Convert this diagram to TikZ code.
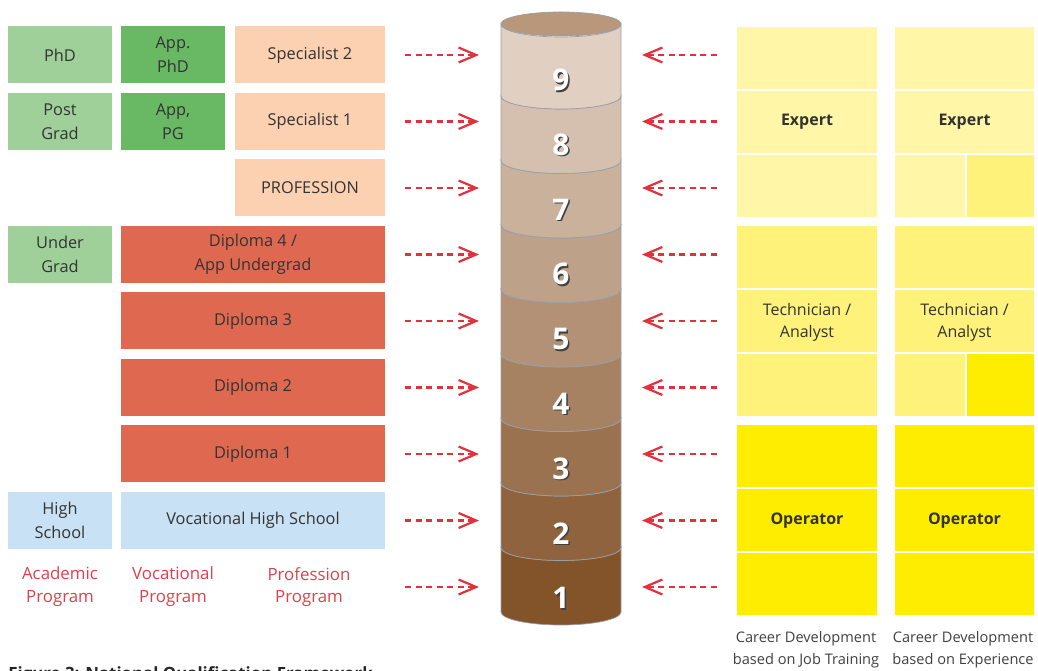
\documentclass[tikz,border=0pt]{standalone}
\usepackage{fontspec}
\setmainfont{Open Sans}
\usetikzlibrary{arrows.meta}

\definecolor{acad}{HTML}{9FD09A}
\definecolor{appl}{HTML}{69B863}
\definecolor{spec}{HTML}{FCD1B1}
\definecolor{dipl}{HTML}{DF6950}
\definecolor{school}{HTML}{C9E1F4}
\definecolor{arrowred}{HTML}{E2303C}
\definecolor{labelred}{HTML}{E0404C}
\definecolor{ylight}{HTML}{FFF6A8}
\definecolor{ymid}{HTML}{FFF27A}
\definecolor{ystrong}{HTML}{FFED00}
\definecolor{brownlight}{HTML}{E1D0C2}
\definecolor{browndark}{HTML}{83532A}
\definecolor{browntop}{HTML}{B8977A}
\definecolor{rimgray}{HTML}{9A9EA6}
\definecolor{txt}{HTML}{333333}

\tikzset{
  prog/.style={inner sep=0pt, minimum height=57*0.02cm, minimum width=#1*0.02cm,
    align=center, text=txt, font=\fontsize{9.3}{13.5}\selectfont},
  career/.style={inner sep=0pt, minimum height=62*0.02cm, minimum width=#1*0.02cm},
  cartext/.style={align=center, text=txt, font=\fontsize{9.1}{12.6}\selectfont},
  lvlarrow/.style={draw=arrowred, line width=1.25pt, dash pattern=on 3.6pt off 2.4pt,
    -{Straight Barb[length=10pt, width=8.5pt]}},
  redlabel/.style={align=center, text=labelred, font=\fontsize{9.6}{13}\selectfont},
  greylabel/.style={align=center, text=black!75, font=\fontsize{8.3}{12.5}\selectfont},
}

\begin{document}
\begin{tikzpicture}[x=0.02cm, y=-0.02cm]
	\useasboundingbox (0,0) rectangle (1038,671);
	\clip (0,0) rectangle (1038,671);

	% programs on the left
	\node[prog=104, fill=acad] (phd) at (60,55) {PhD};
	\node[prog=104, fill=acad] (postgrad) at (60,121.5) {Post\\Grad};
	\node[prog=104, fill=acad] (undergrad) at (60,254.5) {Under\\Grad};
	\node[prog=104, fill=school] (highschool) at (60,520.5) {High\\School};

	\node[prog=104, fill=appl] (appphd) at (173,55) {App.\\PhD};
	\node[prog=104, fill=appl] (apppg) at (173,121.5) {App,\\PG};

	\node[prog=150, fill=spec] (spec2) at (310,55) {Specialist 2};
	\node[prog=150, fill=spec] (spec1) at (310,121.5) {Specialist 1};
	\node[prog=150, fill=spec] (profession) at (310,188) {PROFESSION};

	\node[prog=264, fill=dipl] (dipl4) at (253,254.5) {Diploma 4 /\\App Undergrad};
	\node[prog=264, fill=dipl] (dipl3) at (253,321) {Diploma 3};
	\node[prog=264, fill=dipl] (dipl2) at (253,387.5) {Diploma 2};
	\node[prog=264, fill=dipl] (dipl1) at (253,454) {Diploma 1};
	\node[prog=264, fill=school] (vochigh) at (253,520.5) {Vocational High School};

	\node[redlabel] (acadlabel) at (60,587) {Academic\\Program};
	\node[redlabel] (voclabel) at (173,587) {Vocational\\Program};
	\node[redlabel] (proflabel) at (309,587) {Profession\\Program};

	% the levels
	\foreach \k in {1,...,9} {
		\pgfmathsetmacro\yb{612-64.5*(\k-1)}
		\pgfmathsetmacro\yt{\k==9 ? 24 : 612-64.5*\k}
		\pgfmathsetmacro\mix{100*(9-\k)/8}
		\draw[rimgray, fill=browndark!\mix!brownlight] (501,\yt) -- (501,\yb)
			arc[start angle=180, end angle=0, x radius=60, y radius=13] -- (621,\yt)
			arc[start angle=0, end angle=180, x radius=60, y radius=13] -- cycle;
	}
	\draw[rimgray, fill=browntop] (561,24) ellipse [x radius=60, y radius=12];

	\foreach \k in {1,...,9} {
		\pgfmathsetmacro\yn{598-64.75*(\k-1)}
		\node[text=black!75, font=\bfseries\fontsize{17}{17}\selectfont] (s\k) at (562.5,\yn+1.5) {\k};
		\node[text=white, font=\bfseries\fontsize{17}{17}\selectfont] (n\k) at (561,\yn) {\k};
	}

	% arrows
	\foreach \k in {1,...,9} {
		\pgfmathsetmacro\y{55+66.5*(9-\k)}
		\coordinate (la\k) at (405,\y);
		\coordinate (lb\k) at (479,\y);
		\coordinate (ra\k) at (717,\y);
		\coordinate (rb\k) at (642,\y);
		\draw[lvlarrow] (la\k) -- (lb\k);
		\draw[lvlarrow] (ra\k) -- (rb\k);
	}

	% career development on the right
	\foreach \g/\c in {0/ylight, 1/ymid, 2/ystrong}
		\foreach \r in {0,1,2}
			\node[career=140, fill=\c] (ja\g\r) at (807,{58+199*\g+64*\r}) {};
	\foreach \g/\c in {0/ylight, 1/ymid, 2/ystrong}
		\foreach \r in {0,1}
			\node[career=139, fill=\c] (jb\g\r) at (964.5,{58+199*\g+64*\r}) {};
	\node[career=70, fill=ylight] (jb02) at (930,186) {};
	\node[career=67, fill=ymid] (jc02) at (1000.5,186) {};
	\node[career=70, fill=ymid] (jb12) at (930,385) {};
	\node[career=67, fill=ystrong] (jc12) at (1000.5,385) {};
	\node[career=139, fill=ystrong] (jb22) at (964.5,584) {};

	\node[cartext, font=\bfseries\fontsize{9.1}{12.6}\selectfont] (expa) at (807,122) {Expert};
	\node[cartext, font=\bfseries\fontsize{9.1}{12.6}\selectfont] (expb) at (964.5,122) {Expert};
	\node[cartext] (techa) at (807,322) {Technician /\\Analyst};
	\node[cartext] (techb) at (964.5,322) {Technician /\\Analyst};
	\node[cartext, font=\bfseries\fontsize{9.1}{12.6}\selectfont] (opa) at (807,521) {Operator};
	\node[cartext, font=\bfseries\fontsize{9.1}{12.6}\selectfont] (opb) at (964.5,521) {Operator};

	\node[greylabel] (jobtrain) at (806,650) {Career Development\\based on Job Training};
	\node[greylabel] (experience) at (963,650) {Career Development\\based on Experience};

	\node[anchor=north west, inner sep=0pt, text=black!85,
		font=\bfseries\fontsize{9.6}{12}\selectfont] (figcap) at (8,666) {Figure 3: National Qualification Framework};

\end{tikzpicture}
\end{document}
